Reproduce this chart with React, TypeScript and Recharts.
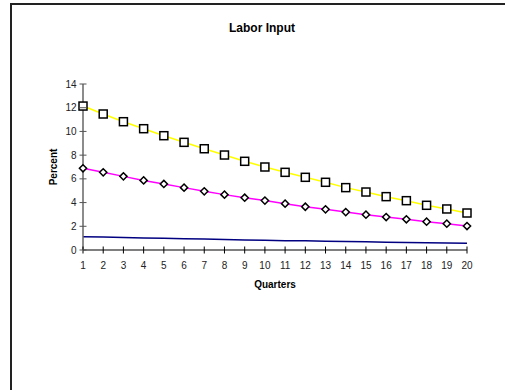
import { LineChart, Line, XAxis, YAxis } from "recharts"

const quarters = [1, 2, 3, 4, 5, 6, 7, 8, 9, 10, 11, 12, 13, 14, 15, 16, 17, 18, 19, 20]
const upperSeries = [12.14, 11.47, 10.82, 10.23, 9.64, 9.08, 8.54, 8.01, 7.48, 7.0, 6.55, 6.13, 5.71, 5.26, 4.89, 4.5, 4.16, 3.77, 3.46, 3.12]
const middleSeries = [6.89, 6.55, 6.21, 5.87, 5.57, 5.26, 4.95, 4.67, 4.41, 4.17, 3.91, 3.65, 3.43, 3.2, 2.98, 2.78, 2.59, 2.39, 2.22, 2.02]
const lowerSeries = [1.12, 1.09, 1.05, 1.02, 0.99, 0.95, 0.92, 0.89, 0.85, 0.82, 0.79, 0.77, 0.74, 0.72, 0.69, 0.66, 0.64, 0.61, 0.59, 0.56]
const yTicks = [0, 2, 4, 6, 8, 10, 12, 14]

const data = quarters.map((q, i) => ({
  quarter: q,
  upper: upperSeries[i],
  middle: middleSeries[i],
  lower: lowerSeries[i],
}))

const FONT = "Arial, 'Liberation Sans', sans-serif"

const SquareDot = (props: any) => {
  const { cx, cy, index } = props
  if (cx == null || cy == null) return <g key={index} />
  return (
    <rect key={index} x={cx - 4} y={cy - 4} width={8} height={8} fill="#fff" stroke="#000" strokeWidth={1.5} />
  )
}

const DiamondDot = (props: any) => {
  const { cx, cy, index } = props
  if (cx == null || cy == null) return <g key={index} />
  const r = 3.6
  return (
    <polygon
      key={index}
      points={`${cx},${cy - r} ${cx + r},${cy} ${cx},${cy + r} ${cx - r},${cy}`}
      fill="#fff"
      stroke="#000"
      strokeWidth={1.5}
    />
  )
}

const YTick = (props: any) => {
  const { x, y, payload } = props
  return (
    <g>
      <line x1={x - 3.5} x2={x + 3.5} y1={y} y2={y} stroke="#555" strokeWidth={1} />
      <text x={x - 6.5} y={y + 3.5} textAnchor="end" fontSize={10} fontFamily={FONT} fill="#222">
        {payload.value}
      </text>
    </g>
  )
}

const XTick = (props: any) => {
  const { x, y, payload } = props
  return (
    <g>
      <line x1={x} x2={x} y1={y - 3.5} y2={y + 3.5} stroke="#000" strokeWidth={1} />
      <text x={x} y={y + 18.5} textAnchor="middle" fontSize={10} fontFamily={FONT} fill="#222">
        {payload.value}
      </text>
    </g>
  )
}

export default function App() {
  return (
    <div
      style={{
        position: "absolute",
        left: 0,
        top: 0,
        width: 505,
        height: 390,
        overflow: "hidden",
        background: "#fff",
        fontFamily: FONT,
      }}
    >
      <div
        style={{
          position: "absolute",
          left: 10,
          top: 3,
          width: 600,
          height: 500,
          borderTop: "2px solid #222",
          borderLeft: "2px solid #222",
        }}
      />
      <div
        style={{
          position: "absolute",
          left: 0,
          top: 21,
          width: 524,
          textAlign: "center",
          fontSize: 12,
          fontWeight: "bold",
          lineHeight: "14px",
          color: "#000",
        }}
      >
        Labor Input
      </div>
      <div style={{ position: "absolute", left: 0, top: 0 }}>
        <LineChart width={505} height={390} data={data} margin={{ top: 84, right: 38, left: 53, bottom: 110 }}>
          <XAxis
            dataKey="quarter"
            height={30}
            tickSize={0}
            tickMargin={0}
            tickLine={false}
            interval={0}
            axisLine={{ stroke: "#000", strokeWidth: 1.2 }}
            tick={<XTick />}
            label={{
              value: "Quarters",
              position: "insideBottom",
              offset: -8,
              style: { fontSize: 10, fontWeight: "bold", fontFamily: FONT, fill: "#000" },
            }}
          />
          <YAxis
            width={30}
            domain={[0, 14]}
            ticks={yTicks}
            tickSize={0}
            tickMargin={0}
            tickLine={false}
            interval={0}
            axisLine={{ stroke: "#666", strokeWidth: 1.5 }}
            tick={<YTick />}
            label={{
              value: "Percent",
              angle: -90,
              position: "insideLeft",
              offset: 0,
              style: { fontSize: 10, fontWeight: "bold", fontFamily: FONT, fill: "#000", textAnchor: "middle" },
            }}
          />
          <Line
            dataKey="lower"
            stroke="#000080"
            strokeWidth={1.5}
            dot={false}
            isAnimationActive={false}
          />
          <Line
            dataKey="middle"
            stroke="#ff00ff"
            strokeWidth={1.5}
            dot={<DiamondDot />}
            isAnimationActive={false}
          />
          <Line
            dataKey="upper"
            stroke="#ffff00"
            strokeWidth={1.5}
            dot={<SquareDot />}
            isAnimationActive={false}
          />
        </LineChart>
      </div>
    </div>
  )
}
